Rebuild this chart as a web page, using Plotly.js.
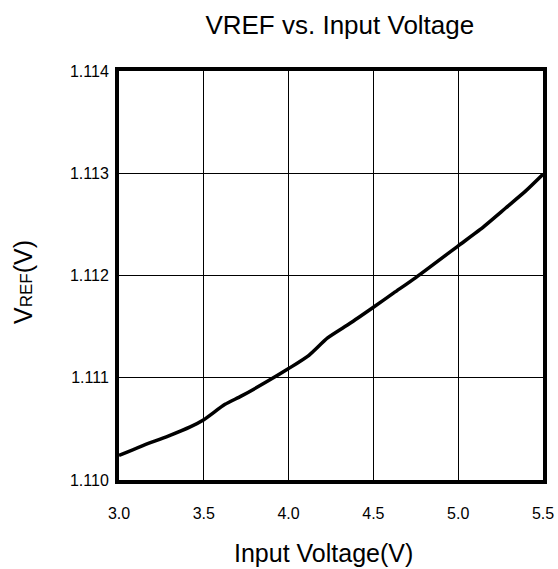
<!DOCTYPE html>
<html>
<head>
<meta charset="utf-8">
<script src="https://cdn.plot.ly/plotly-3.0.1.min.js"></script>
<style>html,body{margin:0;padding:0;background:#fff;}#chart{width:558px;height:569px;}</style>
</head>
<body>
<div id="chart"></div>
<script>
var inputVoltage = [3.0, 3.13, 3.29, 3.42, 3.5, 3.625, 3.72, 3.88, 4.0, 4.12, 4.23, 4.36, 4.5, 4.62, 4.75, 5.0, 5.13, 5.28, 5.4, 5.5];
var vref = [1.11024, 1.11033, 1.11043, 1.11052, 1.11059, 1.11074, 1.11082, 1.11097, 1.11109, 1.11122, 1.11139, 1.11153, 1.11169, 1.11183, 1.11198, 1.11229, 1.11245, 1.11266, 1.11283, 1.11299];
var xTicks = [3.0, 3.5, 4.0, 4.5, 5.0, 5.5];
var xTickText = ["3.0", "3.5", "4.0", "4.5", "5.0", "5.5"];
var yTicks = [1.110, 1.111, 1.112, 1.113, 1.114];
var yTickText = ["1.110", "1.111", "1.112", "1.113", "1.114"];
var chartTitle = 'VREF vs. Input Voltage';
var xTitle = 'Input Voltage(V)';
var yTitle = 'V<span style="font-size:17px">REF</span>(V)';

var trace = {
  x: inputVoltage, y: vref, type: 'scatter', mode: 'lines',
  line: {color: '#000', width: 3.5, shape: 'spline', smoothing: 0.6},
  hoverinfo: 'skip'
};
var fam = '"Liberation Sans", Arial, sans-serif';
var layout = {
  width: 558, height: 569,
  margin: {l: 119, r: 15, t: 71, b: 89},
  paper_bgcolor: '#fff', plot_bgcolor: '#fff',
  showlegend: false,
  font: {family: fam, color: '#000'},
  title: {text: chartTitle, font: {family: fam, size: 26, color: '#000'}, x: 0.609, xanchor: 'center', y: 0.957, yanchor: 'middle'},
  xaxis: {
    range: [3.0, 5.5], tickvals: xTicks, ticktext: xTickText,
    showgrid: true, gridcolor: '#000', gridwidth: 1,
    showline: true, linecolor: '#000', linewidth: 4, mirror: true,
    ticks: 'outside', ticklen: 16, tickcolor: 'rgba(0,0,0,0)',
    tickfont: {family: fam, size: 16, color: '#000'},
    zeroline: false
  },
  yaxis: {
    range: [1.110, 1.114], tickvals: yTicks, ticktext: yTickText,
    showgrid: true, gridcolor: '#000', gridwidth: 1,
    showline: true, linecolor: '#000', linewidth: 4, mirror: true,
    ticks: 'outside', ticklen: 3, tickcolor: 'rgba(0,0,0,0)',
    tickfont: {family: fam, size: 16, color: '#000'},
    zeroline: false
  },
  annotations: [
    {text: xTitle, xref: 'paper', yref: 'paper', x: (323 - 119) / 424, y: -(553 - 480) / 409,
     xanchor: 'center', yanchor: 'middle', showarrow: false, font: {family: fam, size: 25, color: '#000'}},
    {text: yTitle, xref: 'paper', yref: 'paper', x: -(119 - 23) / 424, y: (480 - 282) / 409,
     xanchor: 'center', yanchor: 'middle', textangle: -90, showarrow: false, font: {family: fam, size: 25, color: '#000'}}
  ]
};
Plotly.newPlot('chart', [trace], layout, {staticPlot: true, displayModeBar: false});
</script>
</body>
</html>
